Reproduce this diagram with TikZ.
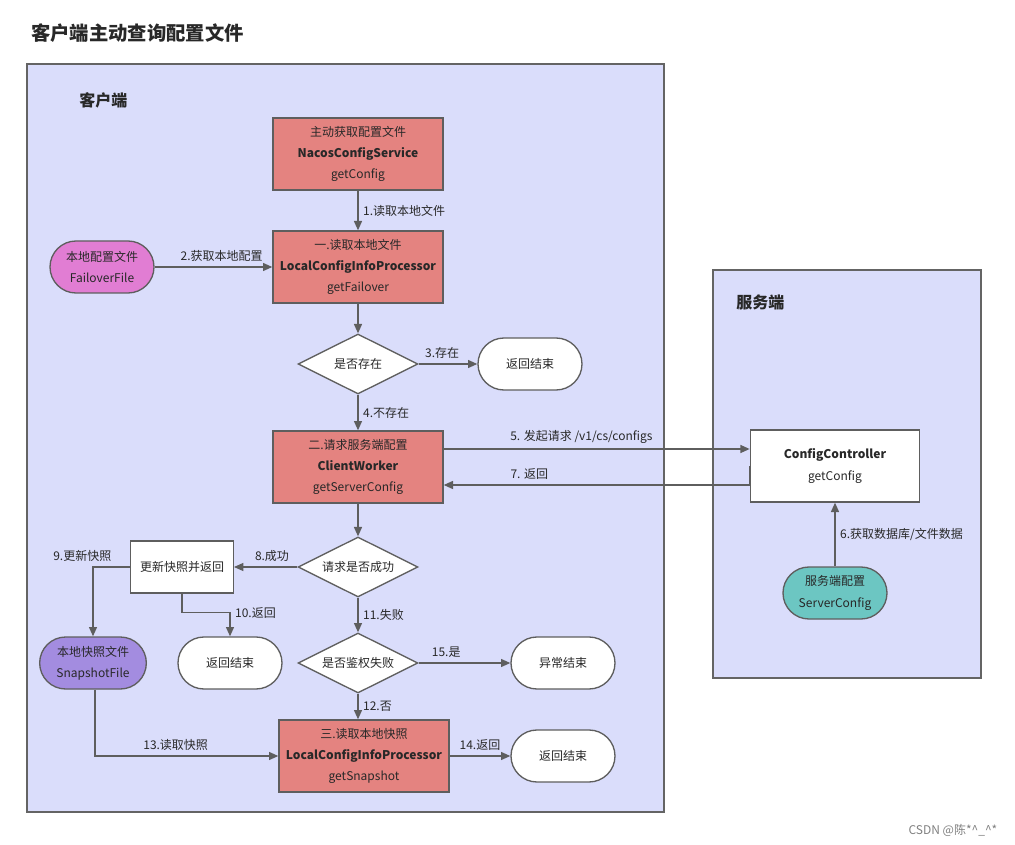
\documentclass[tikz,border=0pt]{standalone}
\usepackage{fontspec}
\setmainfont{Noto Sans CJK SC}
\usetikzlibrary{arrows.meta,positioning,shapes.geometric}
\definecolor{framebg}{RGB}{218,221,251}
\definecolor{framegray}{RGB}{100,100,100}
\definecolor{linegray}{RGB}{94,94,94}
\definecolor{procred}{RGB}{228,131,128}
\definecolor{failpink}{RGB}{225,125,211}
\definecolor{snappurple}{RGB}{163,140,224}
\definecolor{serverteal}{RGB}{108,198,194}
\definecolor{textgray}{RGB}{40,40,40}

\tikzset{
  frame/.style={draw=framegray, line width=1.3pt, fill=framebg},
  heading/.style={anchor=west, inner sep=0pt, font=\fontsize{14.5}{17}\selectfont\bfseries},
  area/.style={anchor=west, inner sep=0pt, font=\fontsize{12}{14}\selectfont\bfseries},
  proc/.style={draw=linegray, line width=1pt, fill=procred, minimum width=127.5pt,
    minimum height=54pt, align=center, inner sep=0pt},
  plain/.style={draw=linegray, line width=1pt, fill=white, align=center,
    minimum width=77pt, minimum height=39pt, inner sep=0pt},
  term/.style={draw=linegray, line width=1pt, fill=white, rounded corners=19.5pt,
    minimum width=78pt, minimum height=39pt, align=center, inner sep=0pt},
  decision/.style={diamond, aspect=2, draw=linegray, line width=1pt, fill=white,
    minimum width=90pt, minimum height=45pt, inner sep=0pt},
  flow/.style={-{Triangle[length=7pt,width=6pt]}, draw=linegray, line width=1pt},
  wm/.style={anchor=east, text=gray, font=\fontsize{9}{10}\selectfont}
}

\begin{document}
\begin{tikzpicture}[x=0.75pt,y=-0.75pt,on grid,
    every node/.style={text=textgray, font=\fontsize{9}{16}\selectfont}]
  \useasboundingbox (0,0) rectangle (1015,845);
  \draw[frame] (27,64) rectangle (664,812);
  \draw[frame] (713,270) rectangle (981,678);
  \node[heading] (ttl) at (31,33) {客户端主动查询配置文件};
  \node[area] (cli) at (79,100) {客户端};
  \node[area] (srv) at (736,302) {服务端};

  \node[proc] (A) at (358,154) {主动获取配置文件\\\textbf{NacosConfigService}\\getConfig};
  \node[proc] (B) [below=84.75pt of A] {一.读取本地文件\\\textbf{LocalConfigInfoProcessor}\\getFailover};
  \node[term,fill=failpink] (fail) [left=192pt of B] {本地配置文件\\FailoverFile};
  \node[decision] (dm1) [below=72.75pt of B] {是否存在};
  \node[term] (end1) [right=129pt of dm1] {返回结束};
  \node[proc] (C) [below=77.25pt of dm1] {二.请求服务端配置\\\textbf{ClientWorker}\\getServerConfig};
  \node[decision] (dm2) [below=75pt of C] {请求是否成功};
  \node[plain] (upd) [left=132pt of dm2] {更新快照并返回};
  \node[term,fill=snappurple,minimum width=80pt] (snap) at (93,663) {本地快照文件\\SnapshotFile};
  \node[term] (end2) at (230,663) {返回结束};
  \node[decision] (dm3) [below=72pt of dm2] {是否鉴权失败};
  \node[term] (abn) [right=153.75pt of dm3] {异常结束};
  \node[proc] (D) at (364,756) {三.读取本地快照\\\textbf{LocalConfigInfoProcessor}\\getSnapshot};
  \node[term] (end3) [right=149.25pt of D] {返回结束};

  \node[plain,minimum width=127pt,minimum height=54pt] (ctl) at (835,466) {\textbf{ConfigController}\\getConfig};
  \node[term,fill=serverteal] (scfg) [below=95.25pt of ctl] {服务端配置\\ServerConfig};

  \coordinate (c5) at ([yshift=13.5pt]C.east);
  \coordinate (c7) at ([yshift=-13.5pt]C.east);

  \draw[flow] (A) -- node[right] {1.读取本地文件} (B);
  \draw[flow] (fail) -- node[above,pos=.57] {2.获取本地配置} (B);
  \draw[flow] (B) -- (dm1);
  \draw[flow] (dm1) -- node[above,pos=.4] {3.存在} (end1);
  \draw[flow] (dm1) -- node[right] {4.不存在} (C);
  \draw[flow] (c5) -- node[above,pos=.45] {5. 发起请求 /v1/cs/configs} (c5 -| ctl.west);
  \draw[flow] (scfg) -- node[right] {6.获取数据库/文件数据} (ctl);
  \draw[flow] (ctl.west) |- node[above,pos=.86] {7. 返回} (c7);
  \draw[flow] (C) -- (dm2);
  \draw[flow] (dm2) -- node[above,pos=.4] {8.成功} (upd);
  \draw[flow] (upd.west) -| node[pos=.5,above,xshift=-8pt] {9.更新快照} (snap.north);
  \draw[flow] (upd.south) -- ++(0,19) -| node[pos=.5,right] {10.返回} (end2.north);
  \draw[flow] (dm2) -- node[right] {11.失败} (dm3);
  \draw[flow] (dm3.south) -- node[right] {12.否} (dm3.south |- D.north);
  \draw[flow] ([xshift=1.5pt]snap.south) |- node[above,pos=.72] {13.读取快照} (D.west);
  \draw[flow] (D) -- node[above] {14.返回} (end3);
  \draw[flow] (dm3) -- node[above,pos=.3] {15.是} (abn);

  \node[wm] (csdn) at (1002,830) {CSDN @陈*\textasciicircum\_\textasciicircum*};
\end{tikzpicture}
\end{document}
